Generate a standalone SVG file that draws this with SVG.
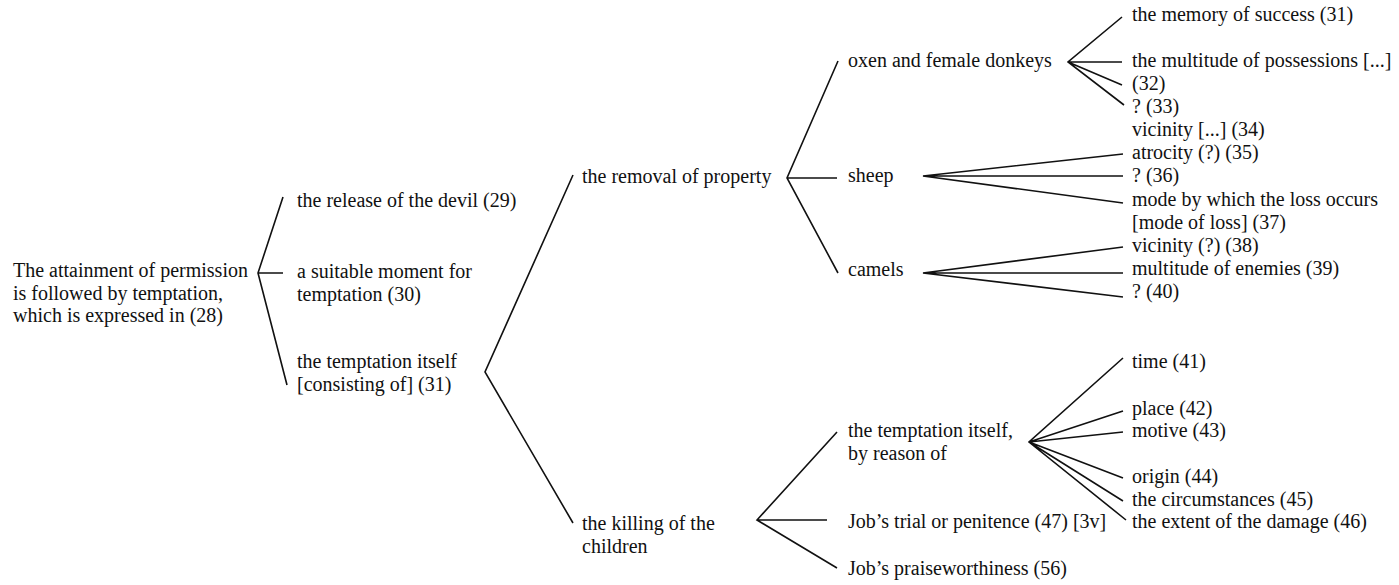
<svg xmlns="http://www.w3.org/2000/svg" width="1399" height="585" viewBox="0 0 1399 585">
  <style>
    text { font-family: "Liberation Serif", "Times New Roman", serif; font-size: 20px; fill: #111; }
    .conn path { fill: none; stroke: #111; stroke-width: 1.6; stroke-linejoin: miter; stroke-linecap: butt; }
  </style>
  <rect width="1399" height="585" fill="#fff"/>

  <!-- connectors: each fork fans out from its parent's right edge -->
  <g id="connectors" class="conn">
    <path d="M283,197 L258,273 L287,385 M258,273 H283"/>
    <path d="M573,175 L485,372 L573,523"/>
    <path d="M838,61 L787,178 L838,273 M787,178 H837"/>
    <path d="M1122,17 L1068,62 L1124,105 M1068,62 H1122 M1068,62 L1122,85"/>
    <path d="M1123,154 L923,176 L1123,203 M923,176 H1123"/>
    <path d="M1123,247 L923,273 L1123,297 M923,273 H1123"/>
    <path d="M837,432 L757,520 L837,568 M757,520 H827"/>
    <path d="M1123,358 L1029,442 L1126,520 M1029,442 L1123,411 M1029,442 L1123,432 M1029,442 L1123,478 M1029,442 L1123,501"/>
  </g>

  <g id="root">
    <text x="13" y="277">The attainment of permission</text>
    <text x="13" y="299.5">is followed by temptation,</text>
    <text x="13" y="322">which is expressed in (28)</text>
  </g>

  <g id="n29"><text x="297" y="207">the release of the devil (29)</text></g>
  <g id="n30">
    <text x="297" y="278">a suitable moment for</text>
    <text x="297" y="300.5">temptation (30)</text>
  </g>
  <g id="n31">
    <text x="297" y="368">the temptation itself</text>
    <text x="297" y="390.5">[consisting of] (31)</text>
  </g>

  <g id="removal"><text x="582" y="183">the removal of property</text></g>
  <g id="killing">
    <text x="582" y="530">the killing of the</text>
    <text x="582" y="552.5">children</text>
  </g>

  <g id="oxen"><text x="848" y="67">oxen and female donkeys</text></g>
  <g id="sheep"><text x="848" y="182">sheep</text></g>
  <g id="camels"><text x="848" y="276">camels</text></g>

  <g id="reason">
    <text x="848" y="437">the temptation itself,</text>
    <text x="848" y="460">by reason of</text>
  </g>
  <g id="n47"><text x="848" y="528">Job’s trial or penitence (47) [3v]</text></g>
  <g id="n56"><text x="848" y="575">Job’s praiseworthiness (56)</text></g>

  <g id="n31b"><text x="1132" y="21">the memory of success (31)</text></g>
  <g id="n32">
    <text x="1132" y="67">the multitude of possessions [...]</text>
    <text x="1132" y="90">(32)</text>
  </g>
  <g id="n33"><text x="1132" y="113">? (33)</text></g>
  <g id="n34"><text x="1132" y="136">vicinity [...] (34)</text></g>
  <g id="n35"><text x="1132" y="159">atrocity (?) (35)</text></g>
  <g id="n36"><text x="1132" y="182">? (36)</text></g>
  <g id="n37">
    <text x="1132" y="206">mode by which the loss occurs</text>
    <text x="1132" y="229">[mode of loss] (37)</text>
  </g>
  <g id="n38"><text x="1132" y="252">vicinity (?) (38)</text></g>
  <g id="n39"><text x="1132" y="275">multitude of enemies (39)</text></g>
  <g id="n40"><text x="1132" y="298">? (40)</text></g>

  <g id="n41"><text x="1132" y="368">time (41)</text></g>
  <g id="n42"><text x="1132" y="415">place (42)</text></g>
  <g id="n43"><text x="1132" y="437">motive (43)</text></g>
  <g id="n44"><text x="1132" y="483">origin (44)</text></g>
  <g id="n45"><text x="1132" y="506">the circumstances (45)</text></g>
  <g id="n46"><text x="1132" y="528">the extent of the damage (46)</text></g>
</svg>
